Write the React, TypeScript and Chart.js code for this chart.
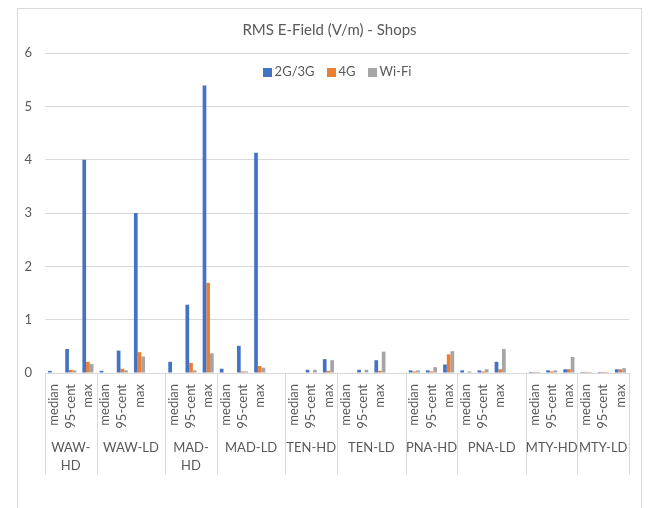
import React, { useEffect, useRef } from "react";
import { Chart, registerables } from "chart.js";

Chart.register(...registerables);

const TITLE = "RMS E-Field (V/m) - Shops";
const SERIES_NAMES = ["2G/3G", "4G", "Wi-Fi"];
const SERIES_COLORS = ["#4472C4", "#ED7D31", "#A5A5A5"];

// 34 categories: LD groups (except MTY-LD) carry a blank 4th category
const CATEGORIES = [
  "median", "95-cent", "max",
  "median", "95-cent", "max", "",
  "median", "95-cent", "max",
  "median", "95-cent", "max", "",
  "median", "95-cent", "max",
  "median", "95-cent", "max", "",
  "median", "95-cent", "max",
  "median", "95-cent", "max", "",
  "median", "95-cent", "max",
  "median", "95-cent", "max",
];

const GROUP_LABELS = [
  ["WAW-", "HD"], ["WAW-LD"], ["MAD-", "HD"], ["MAD-LD"], ["TEN-HD"],
  ["TEN-LD"], ["PNA-HD"], ["PNA-LD"], ["MTY-HD"], ["MTY-LD"],
];
const GROUP_SIZES = [3, 4, 3, 4, 3, 4, 3, 4, 3, 3];

const V_2G3G = [
  0.04, 0.45, 4.0,
  0.04, 0.42, 3.0, null,
  0.21, 1.28, 5.39,
  0.08, 0.51, 4.13, null,
  0.01, 0.06, 0.26,
  0.01, 0.06, 0.24, null,
  0.05, 0.05, 0.16,
  0.05, 0.05, 0.21, null,
  0.02, 0.05, 0.07,
  0.02, 0.02, 0.07,
];
const V_4G = [
  0.01, 0.06, 0.21,
  0.01, 0.08, 0.39, null,
  0.01, 0.19, 1.69,
  0.01, 0.03, 0.13, null,
  0.01, 0.01, 0.04,
  0.01, 0.01, 0.04, null,
  0.03, 0.03, 0.35,
  0.01, 0.03, 0.07, null,
  0.02, 0.03, 0.07,
  0.02, 0.02, 0.07,
];
const V_WIFI = [
  0.01, 0.05, 0.17,
  0.01, 0.05, 0.31, null,
  0.01, 0.05, 0.37,
  0.01, 0.03, 0.10, null,
  0.01, 0.06, 0.24,
  0.01, 0.06, 0.40, null,
  0.05, 0.11, 0.41,
  0.03, 0.07, 0.45, null,
  0.02, 0.05, 0.30,
  0.02, 0.02, 0.09,
];

const FONT = "Lato, 'Open Sans', sans-serif";
const TEXT_COLOR = "#595959";
const LINE_COLOR = "#D9D9D9";

const decorPlugin = {
  id: "decor",
  beforeDraw(chart: any) {
    const ctx = chart.ctx;
    ctx.save();
    ctx.fillStyle = "#ffffff";
    ctx.fillRect(0, 0, chart.width, chart.height);
    ctx.strokeStyle = LINE_COLOR;
    ctx.lineWidth = 1;
    ctx.strokeRect(17.5, 8.5, 624, 620);
    // title centred on the chart frame
    ctx.fillStyle = TEXT_COLOR;
    ctx.font = "15px " + FONT;
    ctx.textAlign = "center";
    ctx.textBaseline = "middle";
    ctx.fillText(TITLE, 329.5, 30);
    ctx.restore();
  },
  afterDraw(chart: any) {
    const ctx = chart.ctx;
    const xs = chart.scales.x;
    const area = chart.chartArea;
    const step = xs.getPixelForValue(1) - xs.getPixelForValue(0);
    ctx.save();
    // group separators
    ctx.strokeStyle = LINE_COLOR;
    ctx.lineWidth = 1;
    let idx = 0;
    const bounds: number[] = [xs.getPixelForValue(0) - step / 2];
    GROUP_SIZES.forEach((n) => {
      idx += n;
      bounds.push(xs.getPixelForValue(idx - 1) + step / 2);
    });
    bounds.forEach((b) => {
      const x = Math.round(b) + 0.5;
      ctx.beginPath();
      ctx.moveTo(x, area.bottom);
      ctx.lineTo(x, area.bottom + 101);
      ctx.stroke();
    });
    // group labels
    ctx.fillStyle = TEXT_COLOR;
    ctx.font = "13px " + FONT;
    ctx.textAlign = "center";
    ctx.textBaseline = "middle";
    GROUP_LABELS.forEach((lines, i) => {
      const cx = (bounds[i] + bounds[i + 1]) / 2;
      lines.forEach((t, j) => {
        ctx.fillText(t, cx, area.bottom + 75 + j * 18);
      });
    });
    // legend inside plot area
    ctx.font = "13px " + FONT;
    ctx.textAlign = "left";
    const box = 9;
    const gapText = 3;
    const gapItem = 12;
    const widths = chart.data.datasets.map((d: any) => ctx.measureText(d.label).width);
    const total = widths.reduce((a: number, w: number) => a + box + gapText + w, 0) + gapItem * (widths.length - 1);
    let x = (area.left + area.right) / 2 - total / 2;
    const y = area.top + 19;
    chart.data.datasets.forEach((d: any, i: number) => {
      ctx.fillStyle = d.backgroundColor;
      ctx.fillRect(Math.round(x), Math.round(y - box / 2), box, box);
      x += box + gapText;
      ctx.fillStyle = TEXT_COLOR;
      ctx.fillText(d.label, x, y);
      x += widths[i] + gapItem;
    });
    ctx.restore();
  },
};

export default function App() {
  const ref = useRef<HTMLCanvasElement | null>(null);
  useEffect(() => {
    if (!ref.current) return;
    const values = [V_2G3G, V_4G, V_WIFI];
    const chart = new Chart(ref.current, {
      type: "bar",
      data: {
        labels: CATEGORIES,
        datasets: SERIES_NAMES.map((name, i) => ({
          label: name,
          data: values[i],
          backgroundColor: SERIES_COLORS[i],
          borderWidth: 0,
          categoryPercentage: 0.645,
          barPercentage: 1.0,
        })),
      },
      options: {
        responsive: false,
        animation: false,
        devicePixelRatio: 1,
        layout: { padding: { top: 53, left: 0, right: 19, bottom: 0 } },
        plugins: {
          legend: { display: false },
          tooltip: { enabled: false },
          title: { display: false },
        },
        scales: {
          x: {
            grid: { display: false, drawTicks: false },
            border: { display: true, color: LINE_COLOR },
            ticks: {
              autoSkip: false,
              minRotation: 90,
              maxRotation: 90,
              padding: 11,
              color: TEXT_COLOR,
              font: { family: FONT, size: 13 },
            },
            afterFit: (s: any) => {
              s.height = 135;
            },
          },
          y: {
            min: 0,
            max: 6,
            grid: { color: LINE_COLOR, drawTicks: false },
            border: { display: false },
            ticks: {
              stepSize: 1,
              padding: 13,
              color: TEXT_COLOR,
              font: { family: FONT, size: 13 },
            },
            afterFit: (s: any) => {
              s.width = 45;
            },
          },
        },
      },
      plugins: [decorPlugin],
    });
    return () => chart.destroy();
  }, []);
  return (
    <div style={{ position: "fixed", left: 0, top: 0, width: 648, height: 508, background: "#fff" }}>
      <canvas ref={ref} width={648} height={508} style={{ display: "block" }} />
    </div>
  );
}
